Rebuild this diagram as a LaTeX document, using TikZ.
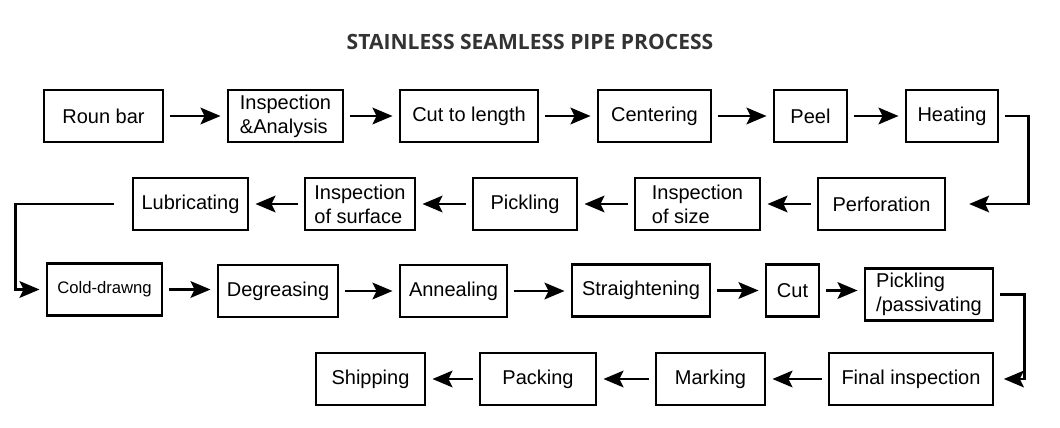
\documentclass[tikz,border=0pt]{standalone}
\usepackage{fontspec}
\setmainfont{Liberation Sans}
\newfontfamily\titlefont{Open Sans}
\usetikzlibrary{arrows.meta}
\definecolor{titlegray}{HTML}{333333}

\begin{document}
\begin{tikzpicture}[
    x=0.75pt, y=-0.75pt,
    stage/.style={rectangle, draw=black, line width=2.2pt, minimum width=#1,
        minimum height=39pt, inner sep=0pt, align=left,
        font=\fontsize{15}{18}\selectfont},
    flow/.style={-{Stealth[length=15pt, width=12.5pt, inset=3pt]},
        line width=1.8pt, shorten <=4pt, shorten >=4.5pt},
    ]
    \useasboundingbox (0,0) rectangle (1060,428);

    \node (title) [text=titlegray, font=\titlefont\bfseries\fontsize{15.8}{18}\selectfont]
        at (530,42) {STAINLESS SEAMLESS PIPE PROCESS};

    % first row, left to right
    \node (roun) [stage=89.25pt] at (103.5,116) {Roun bar};
    \node (inspA) [stage=86.25pt] at (285.5,116) {Inspection\\\&Analysis};
    \node (cutlen) [stage=103.5pt] at (469,116) {Cut to length};
    \node (centr) [stage=84.75pt] at (654.5,116) {Centering};
    \node (peel) [stage=54.75pt] at (810.5,116) {Peel};
    \node (heat) [stage=69pt] at (952,116) {Heating};

    % second row, right to left
    \node (perf) [stage=95.25pt] at (881.5,204) {Perforation};
    \node (inspSize) [stage=93.75pt] at (697.5,204) {Inspection\\of size};
    \node (pick) [stage=78pt] at (525,204) {Pickling};
    \node (inspSurf) [stage=82.5pt] at (360,204) {Inspection\\of surface};
    \node (lube) [stage=86.25pt] at (190.5,204) {Lubricating};

    % third row, left to right
    \node (cold) [stage=86.25pt, font=\fontsize{12.5}{15}\selectfont] at (104.5,289.5) {Cold-drawng};
    \node (degr) [stage=90pt] at (278,291) {Degreasing};
    \node (anneal) [stage=80.25pt] at (453.5,291) {Annealing};
    \node (straight) [stage=103.5pt] at (641,290.5) {Straightening};
    \node (cut) [stage=39.75pt] at (792.5,290.5) {Cut};
    \node (pickPass) [stage=96pt] at (929,294.5) {Pickling\\/passivating};

    % fourth row, right to left
    \node (final) [stage=123pt] at (911,379) {Final inspection};
    \node (mark) [stage=81.75pt] at (710.5,379) {Marking};
    \node (pack) [stage=87pt] at (538,379) {Packing};
    \node (ship) [stage=81.75pt] at (370.5,379) {Shipping};

    \foreach \a/\b in {roun/inspA, inspA/cutlen, cutlen/centr, centr/peel, peel/heat,
        cold/degr, degr/anneal, anneal/straight, straight/cut, cut/pickPass} {
        \draw [flow] (\a.east) -- (\a.east -| \b.west);
    }
    \foreach \a/\b in {perf/inspSize, inspSize/pick, pick/inspSurf, inspSurf/lube,
        final/mark, mark/pack, pack/ship} {
        \draw [flow] (\a.west) -- (\a.west -| \b.east);
    }

    % turns at the row ends
    \draw [flow, shorten >=17pt] (heat.east) -- ++(29,0) |- (perf.east);
    \draw [flow, shorten <=13pt] (lube.west) -- ++(-116,0) |- (cold.west);
    \draw [flow, shorten >=7pt] (pickPass.east) -- ++(30,0) |- (final.east);
\end{tikzpicture}
\end{document}
